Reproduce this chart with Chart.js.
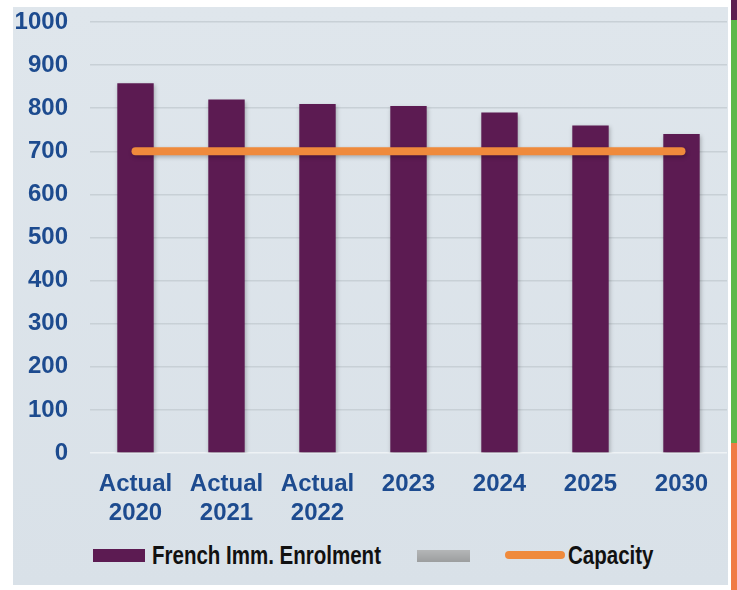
<!DOCTYPE html>
<html>
<head>
<meta charset="utf-8">
<script src="https://cdn.jsdelivr.net/npm/chart.js@4"></script>
<style>
  body { margin: 0; background: #fff; width: 737px; height: 590px; position: relative; overflow: hidden; }
  #panel { position: absolute; left: 13px; top: 7px; width: 715px; height: 578px;
           background: linear-gradient(#dfe6ec, #d9e1e8); }
  #wrap { position: absolute; left: 0; top: 0; width: 715px; height: 526px; }
  .strip { position: absolute; left: 731px; width: 6px; }
  .lg { position: absolute; }
  .lgtext { position: absolute; top: 534px; font: bold 25px "Liberation Sans", sans-serif;
            color: #111; line-height: 28px; transform: scaleX(0.82); transform-origin: 0 0; white-space: nowrap; }
</style>
</head>
<body>
<div class="strip" style="top:0;height:20px;background:#5c1f4f"></div>
<div class="strip" style="top:20px;height:423px;background:#5cb84a"></div>
<div class="strip" style="top:443px;height:147px;background:#f07a45"></div>
<div id="panel">
  <div id="wrap"><canvas id="enrolchart"></canvas></div>
  <div class="lg" style="left:80px;top:542px;width:52px;height:13px;background:#5c1b52"></div>
  <div class="lgtext" style="left:139px">French Imm. Enrolment</div>
  <div class="lg" style="left:404px;top:543px;width:53px;height:12px;background:linear-gradient(#b4b6b7,#9c9e9f)"></div>
  <div class="lg" style="left:492px;top:544px;width:60px;height:8px;border-radius:4px;background:#ef8a3c"></div>
  <div class="lgtext" style="left:555px">Capacity</div>
</div>
<script>
// chart values
const categories = [['Actual', '2020'], ['Actual', '2021'], ['Actual', '2022'], '2023', '2024', '2025', '2030'];
const enrolment = [858, 820, 810, 805, 790, 760, 740];
const capacity = [700, 700, 700, 700, 700, 700, 700];

const blue = '#1d4b8f';
const tickFont = { family: '"Liberation Sans", sans-serif', size: 24, weight: 'bold' };

// soft shadow under bars and line
const shadow = {
  id: 'shadow',
  beforeDatasetsDraw(c) {
    c.ctx.save();
    c.ctx.shadowColor = 'rgba(0,0,0,0.25)';
    c.ctx.shadowBlur = 4;
    c.ctx.shadowOffsetX = 1;
    c.ctx.shadowOffsetY = 2;
  },
  afterDatasetsDraw(c) { c.ctx.restore(); }
};

const enrolchart = new Chart(document.getElementById('enrolchart'), {
  data: {
    labels: categories,
    datasets: [
      {
        type: 'line',
        label: 'Capacity',
        data: capacity,
        borderColor: '#ef8a3c',
        borderWidth: 8,
        borderCapStyle: 'round',
        pointRadius: 0,
        order: 1
      },
      {
        type: 'bar',
        label: 'French Imm. Enrolment',
        data: enrolment,
        backgroundColor: '#5c1b52',
        barPercentage: 0.4,
        categoryPercentage: 1,
        order: 2
      }
    ]
  },
  options: {
    responsive: true,
    maintainAspectRatio: false,
    animation: false,
    layout: { padding: { top: 15, right: 1, left: 0, bottom: 0 } },
    plugins: { legend: { display: false }, tooltip: { enabled: false } },
    scales: {
      x: {
        grid: { display: false },
        border: { display: false },
        ticks: { color: blue, font: tickFont, padding: 9, maxRotation: 0 },
        afterFit(s) { s.height = 80; }
      },
      y: {
        min: 0,
        max: 1000,
        grid: {
          drawTicks: true,
          tickLength: 22,
          tickColor: 'rgba(0,0,0,0)',
          lineWidth: 1.5,
          color: (ctx) => ctx.index === 0 ? '#eef2f5' : '#c8d0d6'
        },
        border: { display: false },
        ticks: { stepSize: 100, color: blue, font: tickFont, padding: 0, callback: (v) => String(v) },
        afterFit(s) { s.width = 77; }
      }
    }
  },
  plugins: [shadow]
});
</script>
</body>
</html>
